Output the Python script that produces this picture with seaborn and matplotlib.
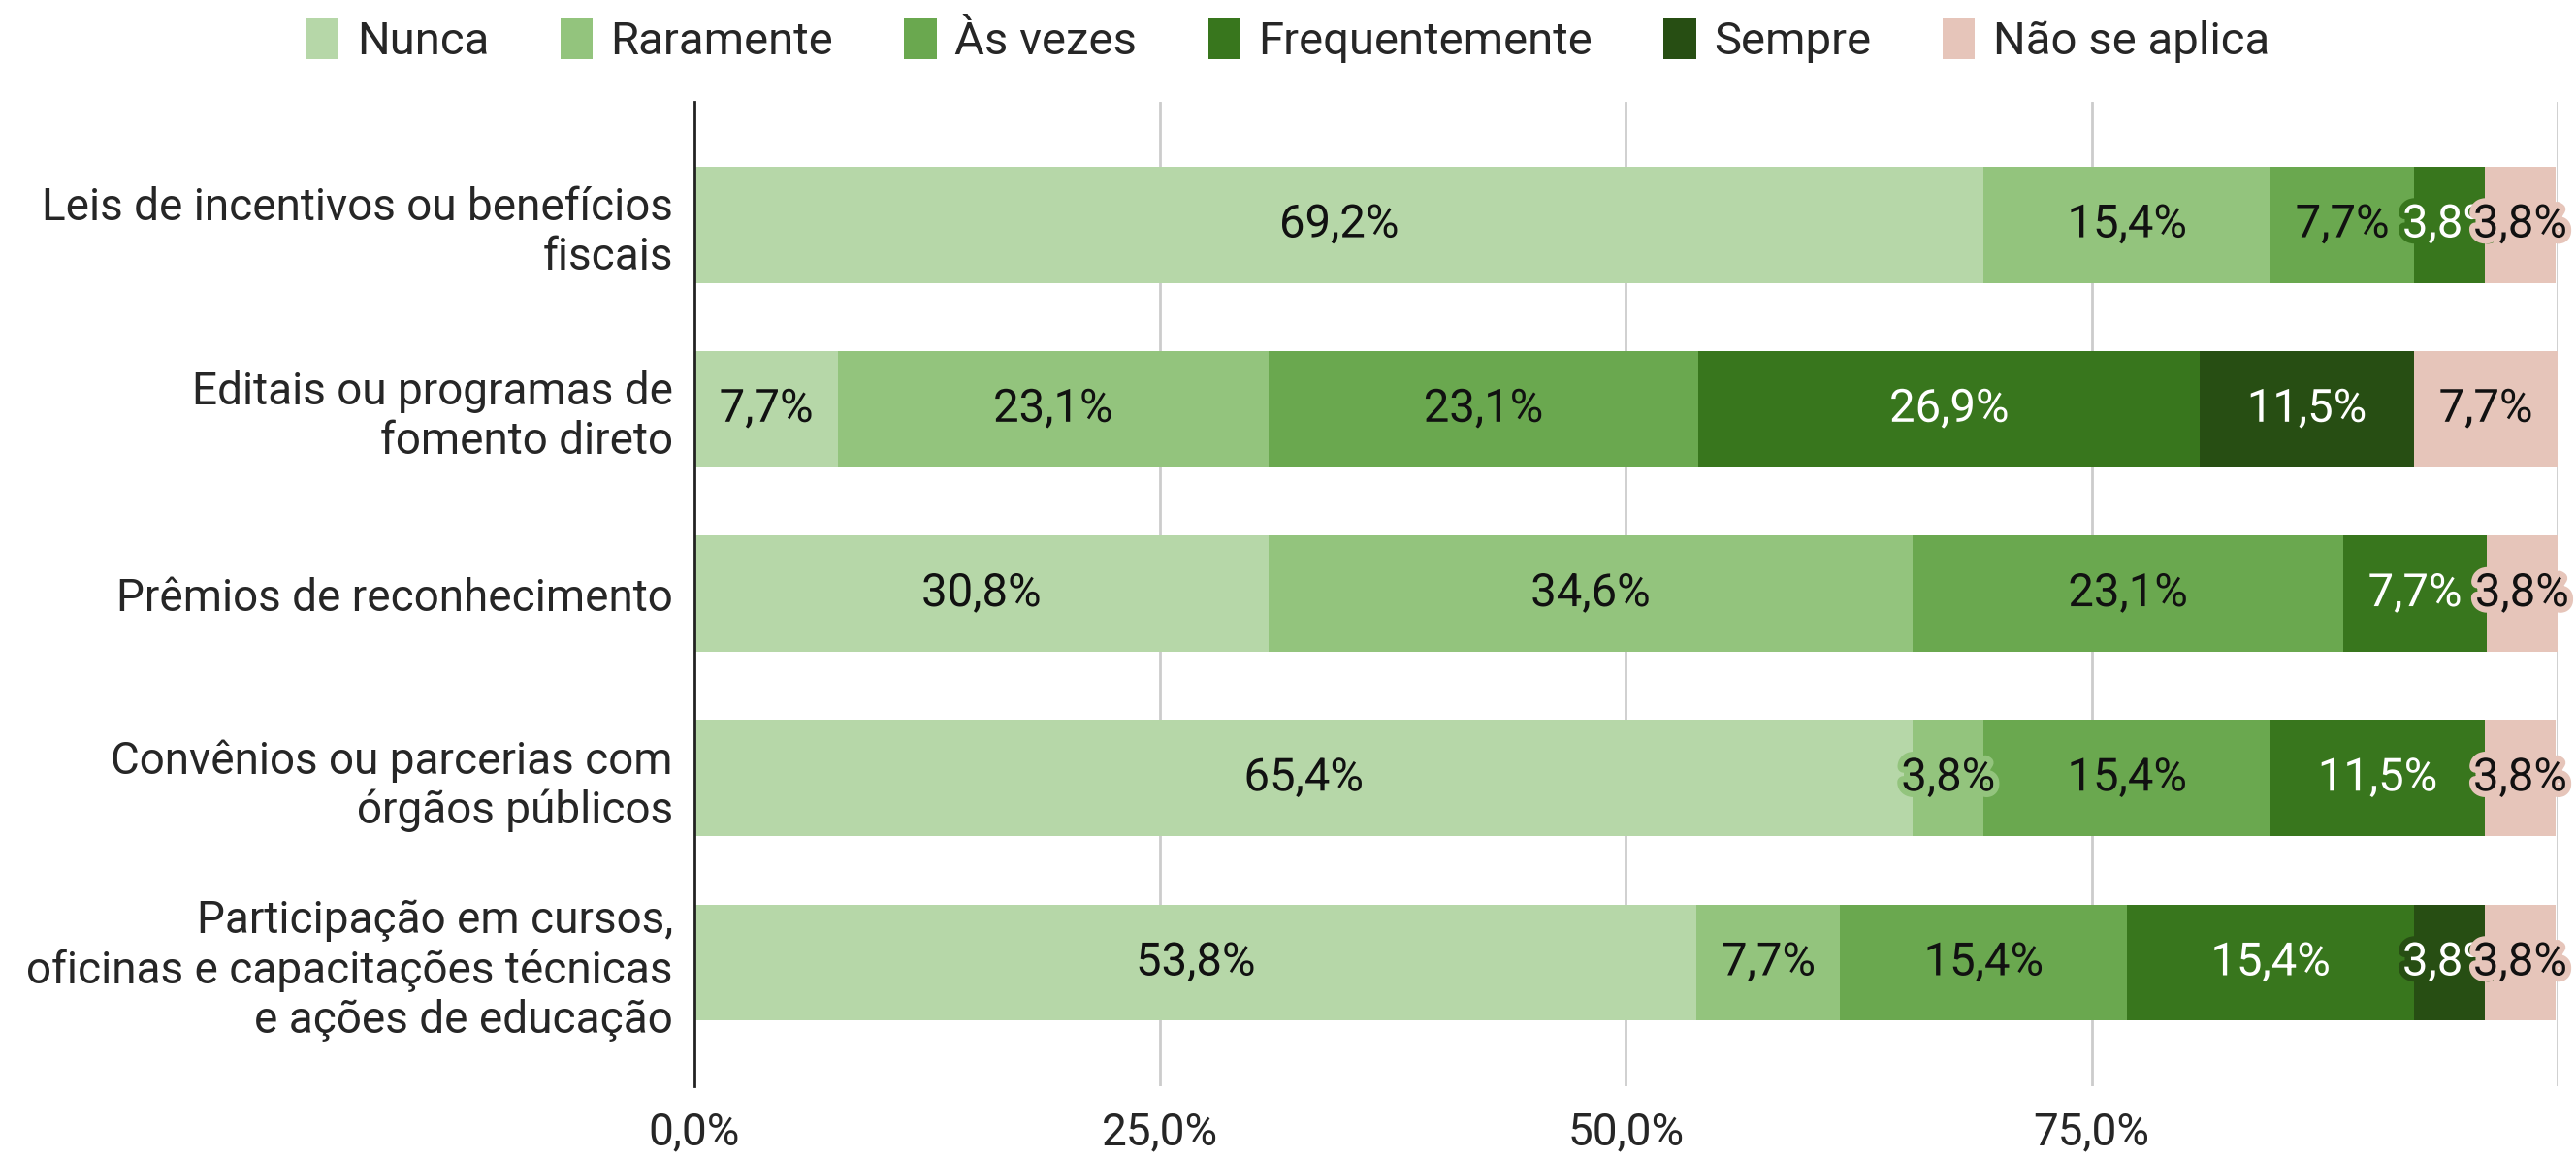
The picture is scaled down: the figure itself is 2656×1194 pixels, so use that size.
import numpy as np
import pandas as pd
import matplotlib
matplotlib.use("Agg")
import matplotlib.pyplot as plt
import matplotlib.patheffects as pe
from matplotlib.patches import Patch
import seaborn as sns

categories = [
    "Leis de incentivos ou benefícios\nfiscais",
    "Editais ou programas de\nfomento direto",
    "Prêmios de reconhecimento",
    "Convênios ou parcerias com\nórgãos públicos",
    "Participação em cursos,\noficinas e capacitações técnicas\ne ações de educação",
]
levels = ["Nunca", "Raramente", "Às vezes", "Frequentemente", "Sempre", "Não se aplica"]

nunca = [69.2, 7.7, 30.8, 65.4, 53.8]
raramente = [15.4, 23.1, 34.6, 3.8, 7.7]
as_vezes = [7.7, 23.1, 23.1, 15.4, 15.4]
frequentemente = [3.8, 26.9, 7.7, 11.5, 15.4]
sempre = [0.0, 11.5, 0.0, 0.0, 3.8]
nao_se_aplica = [3.8, 7.7, 3.8, 3.8, 3.8]

colors = ["#b6d7a8", "#93c47d", "#6aa84f", "#38761d", "#274e13", "#e6c5ba"]
label_colors = ["#111111", "#111111", "#111111", "#ffffff", "#ffffff", "#111111"]
xticks = [0, 25, 50, 75, 100]
xticklabels = ["0,0%", "25,0%", "50,0%", "75,0%", ""]

sns.set_style("white")
plt.rcParams["font.family"] = ["Roboto", "DejaVu Sans"]
FS = 34

series = [nunca, raramente, as_vezes, frequentemente, sempre, nao_se_aplica]
df = pd.DataFrame({"categoria": categories})
for name, vals in zip(levels, series):
    df[name] = vals
cum = df[levels].cumsum(axis=1)

fig = plt.figure(figsize=(26.56, 11.94), dpi=100)
ax = fig.add_axes([0.2696, 0.062, 0.7232, 0.850])

# draw cumulative totals from the longest down, so each shorter one covers the rest
for i in range(len(levels) - 1, -1, -1):
    sns.barplot(x=cum[levels[i]], y=df["categoria"], orient="h", color=colors[i],
                saturation=1, width=0.63, linewidth=0, edgecolor="none", ax=ax, zorder=2)

# value labels
for i, lev in enumerate(levels):
    for j in range(len(categories)):
        v = df[lev].iloc[j]
        if v <= 0:
            continue
        center = cum[lev].iloc[j] - v / 2
        ax.text(center, j, f"{v:.1f}%".replace(".", ","), ha="center", va="center",
                fontsize=FS, color=label_colors[i], zorder=5 + i,
                path_effects=[pe.withStroke(linewidth=9, foreground=colors[i])])

ax.set_xlim(0, 100)
ax.set_ylim(4.67, -0.665)
ax.set_xticks(xticks)
ax.set_xticklabels(xticklabels, fontsize=33)
ax.tick_params(axis="x", length=0, pad=18)
ax.tick_params(axis="y", length=0, pad=16, labelsize=33)
ax.set_xlabel("")
ax.set_ylabel("")
ax.set_axisbelow(True)
for t in xticks[1:]:
    ax.axvline(t, color="#cccccc", linewidth=2, zorder=0)
for s in ["top", "right", "bottom"]:
    ax.spines[s].set_visible(False)
ax.spines["left"].set_color("#222222")
ax.spines["left"].set_linewidth(2)
ax.spines["left"].set_zorder(6)

handles = [Patch(facecolor=c, edgecolor="none") for c in colors]
fig.legend(handles, levels, loc="upper center", bbox_to_anchor=(0.5, 1.02), ncol=6,
           frameon=False, fontsize=FS, handlelength=0.7, handleheight=1.0,
           handletextpad=0.4, columnspacing=1.55)

fig.savefig("out.png", dpi=100)
